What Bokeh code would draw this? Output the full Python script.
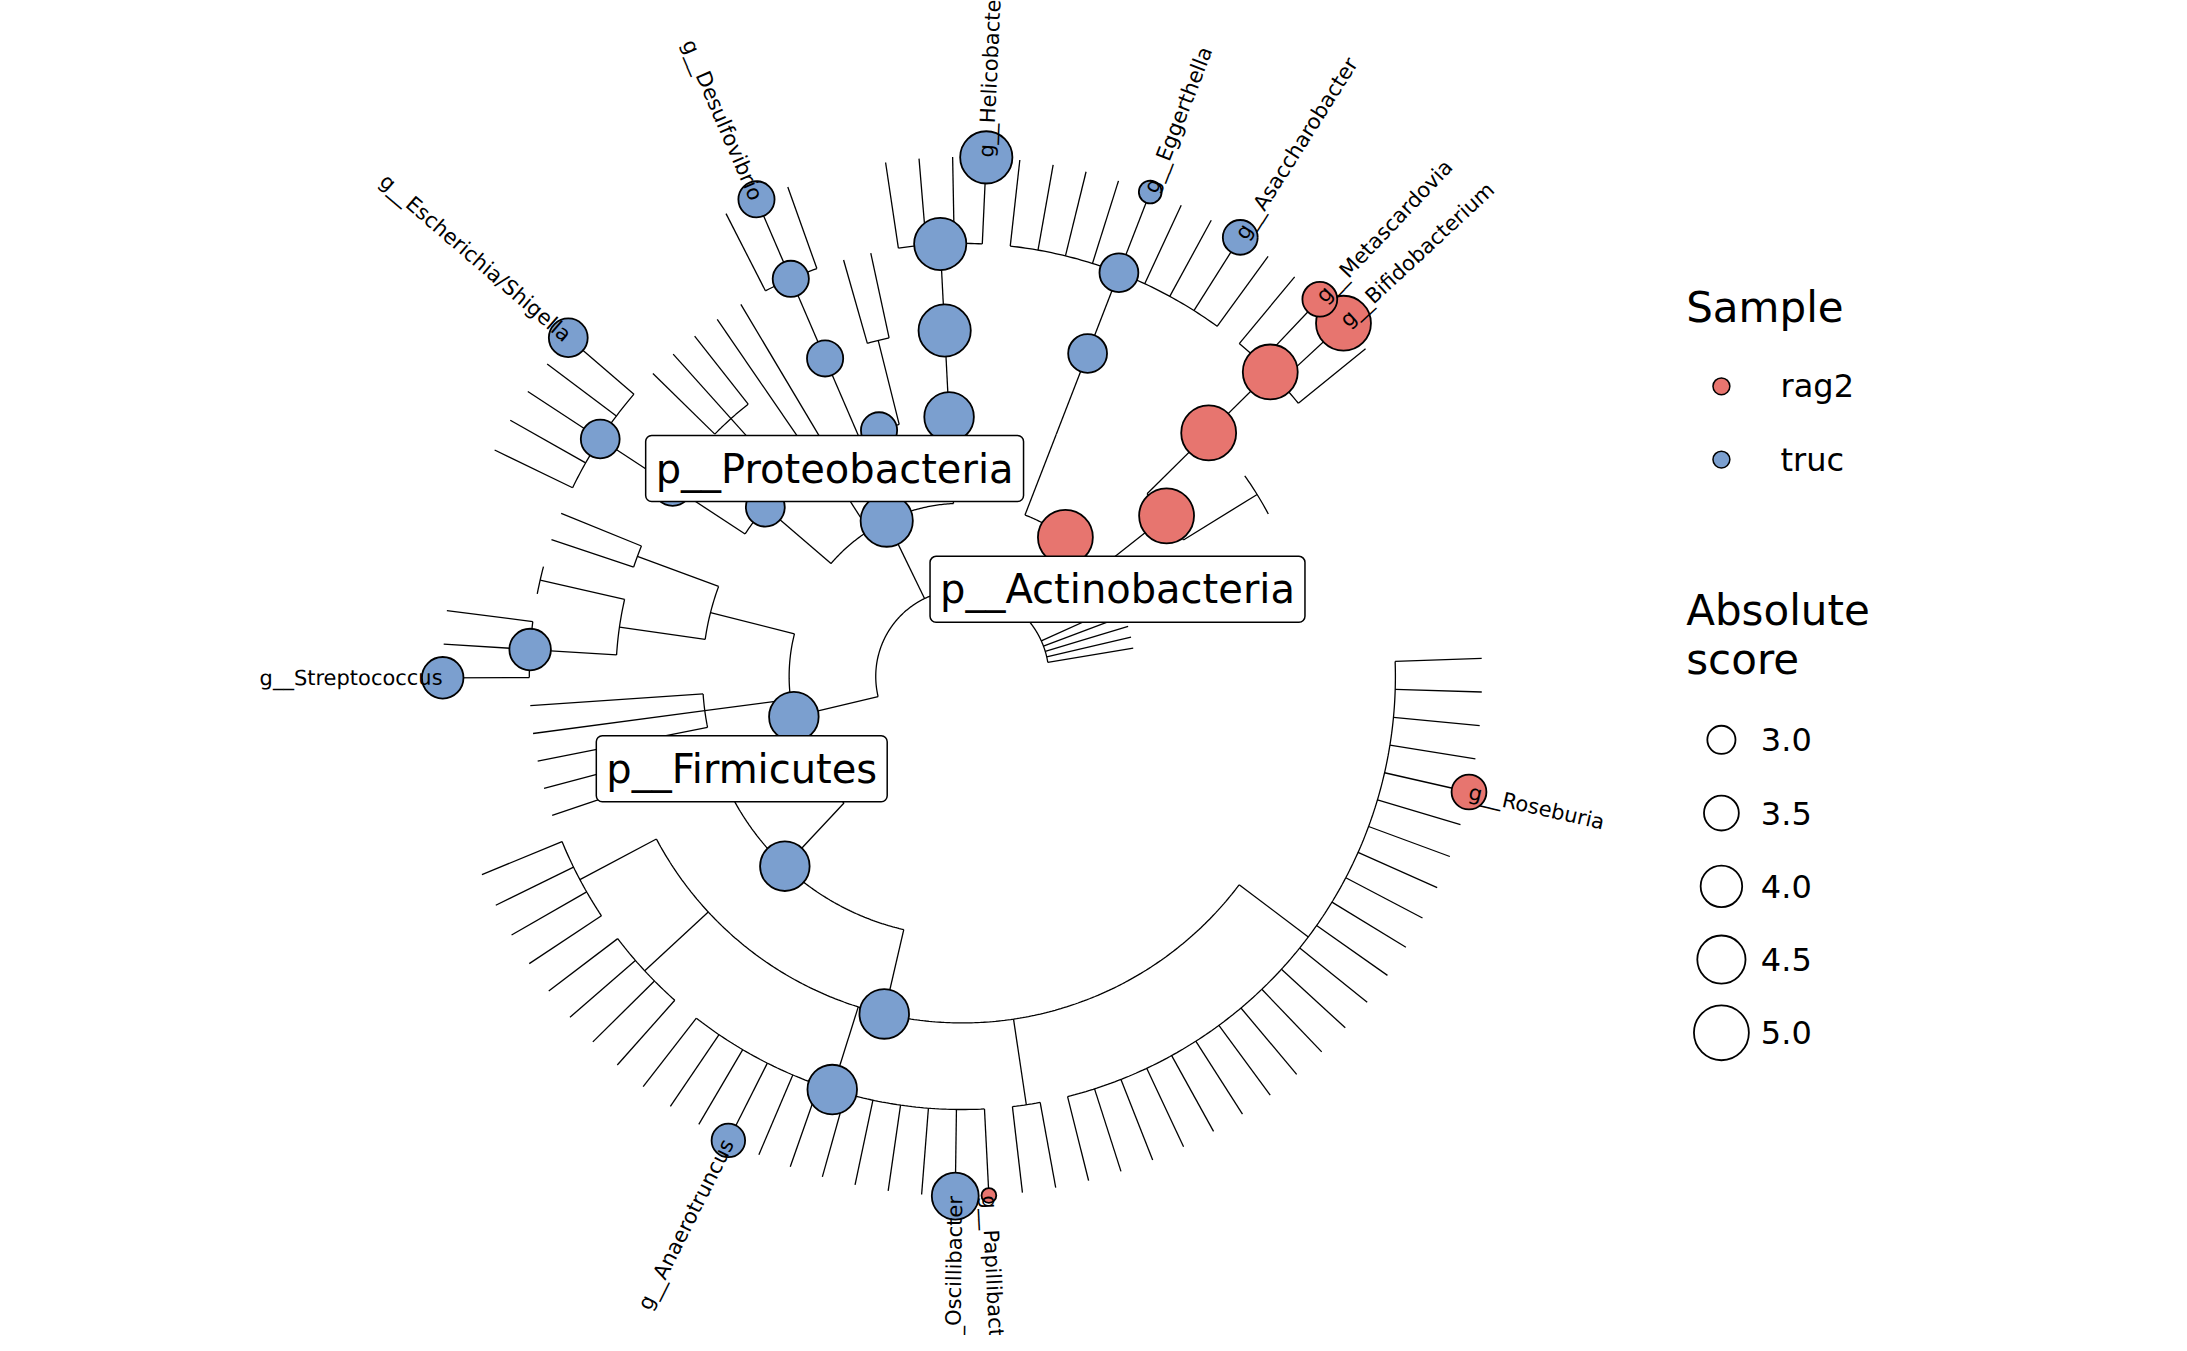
import math
from bokeh.plotting import figure
from bokeh.models import Range1d, Label, ColumnDataSource
from bokeh.core.properties import value
from bokeh.embed import file_html
from bokeh.resources import INLINE

# ---------------- data ----------------
lachno = ["", "", "", "", "g__Roseburia"] + [""] * 17
rumino = ["g__Papillibacter", "g__Oscillibacter", "", "", "", "", "", "", "g__Anaerotruncus", "", "", ""]
firmicutes = ["p__Firmicutes", [
    ["c__Clostridia", [
        ["o__Clostridiales", [
            ["f__Lachnospiraceae", lachno],
            ["f__Clostridiaceae", ["", ""]],
            ["f__Ruminococcaceae", rumino],
            ["f__Peptostreptococcaceae", ["", "", "", ""]],
            ["f__Eubacteriaceae", ["", "", "", ""]],
        ]],
        ["o__other", [["", 5], ["", 5]]],
    ]],
    ["c__Erysipelotrichia", [["", 5], ["", 5], ["", 5]]],
    ["c__Bacilli", [
        ["o__Lactobacillales", [
            ["f__Streptococcaceae", ["g__Streptococcus", "", ""]],
            ["f__Lactobacillaceae", [["", 5], ["", 5]]],
        ]],
        ["o__Bacillales", [["", 5], ["", 5]]],
    ]],
]]
proteobacteria = ["p__Proteobacteria", [
    ["c__Gammaproteobacteria", [
        ["o__Enterobacteriales", [
            ["f__Enterobacteriaceae", ["", "", "", "", "g__Escherichia/Shigella"]],
        ]],
        ["o__Pseudomonadales", [["", 5], ["", 5], ["", 5]]],
    ]],
    ["c__Betaproteobacteria", [["", 5], ["", 5]]],
    ["c__Deltaproteobacteria", [
        ["o__Desulfovibrionales", [
            ["f__Desulfovibrionaceae", ["", "g__Desulfovibrio", ""]],
        ]],
        ["o__other2", [["", 5], ["", 5]]],
    ]],
    ["c__Epsilonproteobacteria", [
        ["o__Campylobacterales", [
            ["f__Helicobacteraceae", ["", "", "", "g__Helicobacter"]],
        ]],
    ]],
]]
actinobacteria = ["p__Actinobacteria", [
    ["c__Coriobacteriia", [
        ["o__Coriobacteriales", [
            ["f__Coriobacteriaceae", ["", "", "", "", "g__Eggerthella", "", "", "g__Asaccharobacter", ""]],
        ]],
    ]],
    ["c__Actinobacteria", [
        ["o__Bifidobacteriales", [
            ["f__Bifidobacteriaceae", ["", "g__Metascardovia", "g__Bifidobacterium", ""]],
        ]],
        ["o__otherA", [["", 4], ["", 4], ["", 4]]],
    ]],
]]
tree = ["k__Bacteria", [firmicutes, proteobacteria, actinobacteria,
                        ["", 2], ["", 2], ["", 2], ["", 2], ["", 2]]]

# highlighted nodes: name -> (sample, absolute score)
marker_names = ["p__Actinobacteria", "c__Actinobacteria", "o__Bifidobacteriales", "f__Bifidobacteriaceae",
                "g__Bifidobacterium", "g__Metascardovia", "g__Roseburia", "g__Papillibacter",
                "o__Coriobacteriales", "f__Coriobacteriaceae", "g__Eggerthella", "g__Asaccharobacter",
                "p__Proteobacteria", "c__Epsilonproteobacteria", "o__Campylobacterales", "f__Helicobacteraceae",
                "g__Helicobacter", "c__Deltaproteobacteria", "o__Desulfovibrionales", "f__Desulfovibrionaceae",
                "g__Desulfovibrio", "c__Gammaproteobacteria", "o__Enterobacteriales", "f__Enterobacteriaceae",
                "g__Escherichia/Shigella", "p__Firmicutes", "c__Clostridia", "o__Clostridiales",
                "f__Ruminococcaceae", "g__Oscillibacter", "g__Anaerotruncus", "f__Streptococcaceae",
                "g__Streptococcus"]
marker_sample = ["rag2"] * 8 + ["truc"] * 25
marker_score = [5.0, 5.0, 5.0, 5.0, 5.0, 3.5, 3.5, 2.0,
                3.8, 3.8, 2.6, 3.5,
                4.8, 4.6, 4.8, 4.8, 4.8, 3.6, 3.6, 3.6, 3.6, 3.8, 3.8, 3.8, 3.8,
                4.6, 4.6, 4.6, 4.6, 4.4, 3.4, 4.0, 4.0]
sample_levels = ["rag2", "truc"]
sample_colors = ["#E7756F", "#7B9FCF"]
size_levels = [3.0, 3.5, 4.0, 4.5, 5.0]

# ---------------- layout ----------------
CX, CY, R = 683.0, 488.0, 61.5
def count_leaves(n):
    if isinstance(n, str) or isinstance(n[1], int):
        return 1
    return sum(count_leaves(c) for c in n[1])
N = count_leaves(tree)
DELTA = 360.0 / (N + 1)
THETA0 = 2.0
nodes = {}
xs, ys = [], []
counter = [0]

def pol(r, th):
    a = math.radians(th)
    return CX + r * math.cos(a), CY + r * math.sin(a)

def layout(n, depth):
    if isinstance(n, str) or isinstance(n[1], int):
        d = 6 if isinstance(n, str) else n[1]
        name = n if isinstance(n, str) else n[0]
        th = THETA0 - counter[0] * DELTA
        counter[0] += 1
        if name:
            nodes[name] = (d, th)
        return d, th
    kids = [layout(c, depth + 1) for c in n[1]]
    th = sum(k[1] for k in kids) / len(kids)
    nodes[n[0]] = (depth, th)
    r = depth * R
    a0, a1 = min(k[1] for k in kids), max(k[1] for k in kids)
    steps = max(2, int((a1 - a0) / 0.5))
    pts = [pol(r, a0 + (a1 - a0) * i / steps) for i in range(steps + 1)]
    xs.append([q[0] for q in pts]); ys.append([q[1] for q in pts])
    for d, kt in kids:
        p1, p2 = pol(r, kt), pol(d * R, kt)
        xs.append([p1[0], p2[0]]); ys.append([p1[1], p2[1]])
    return depth, th

layout(tree, 1)

# ---------------- figure ----------------
W, H = 2171, 1335
S = W / 1541.6
p = figure(width=W, height=H, output_backend="svg", toolbar_location=None,
           x_range=Range1d(0, 1541.6), y_range=Range1d(968 - H / S, 968), min_border=0)
p.axis.visible = False
p.grid.visible = False
p.outline_line_color = None

p.multi_line(xs, ys, line_color="black", line_width=1.3)

cx, cy, cr, cc = [], [], [], []
tx, ty, tt, ta, tal = [], [], [], [], []
for nm, smp, sc in zip(marker_names, marker_sample, marker_score):
    d, th = nodes[nm]
    x, y = pol(d * R, th)
    cx.append(x); cy.append(y); cr.append(10 + (sc - 3) * 4.75)
    cc.append(sample_colors[sample_levels.index(smp)])
    if nm.startswith("g__"):
        t = th % 360
        tx.append(x); ty.append(y); tt.append(nm)
        if 90 < t < 270:
            ta.append(math.radians(t - 180)); tal.append("right")
        else:
            ta.append(math.radians(t)); tal.append("left")
p.circle(cx, cy, radius=cr, fill_color=cc, line_color="black", line_width=1.8)
p.text(x="x", y="y", text="t", angle="a", text_align="al",
       source=ColumnDataSource(dict(x=tx, y=ty, t=tt, a=ta, al=tal)),
       text_baseline="middle", text_font=value("DejaVu Sans"), text_font_size="21px",
       text_color="black")

offsets = {"p__Proteobacteria": (-37, 37), "p__Actinobacteria": (37, -37), "p__Firmicutes": (-37, -37)}
for nm, (ox, oy) in offsets.items():
    d, th = nodes[nm]
    x, y = pol(d * R, th)
    p.add_layout(Label(x=x + ox, y=y + oy, text=nm, text_align="center", text_baseline="middle",
                       text_font="DejaVu Sans", text_font_size="40px", text_color="black",
                       background_fill_color="white",
                       border_line_color="black", border_line_width=1.5, padding=10, border_radius=6))

# legend
def lab(x, y, t, size):
    p.add_layout(Label(x=x, y=968 - y, text=t, text_baseline="middle", text_font="DejaVu Sans",
                       text_font_size=size, text_color="black"))
lab(1197, 218, "Sample", "42px")
for i, (lv, col) in enumerate(zip(sample_levels, sample_colors)):
    p.circle([1222], [968 - (274 + 52 * i)], radius=6, fill_color=col, line_color="black", line_width=1.5)
    lab(1264, 274 + 52 * i, lv, "32px")
lab(1197, 433, "Absolute", "42px")
lab(1197, 468, "score", "42px")
for i, s in enumerate(size_levels):
    p.circle([1222], [968 - (525 + 52 * i)], radius=10 + (s - 3) * 4.75, fill_color="white",
             line_color="black", line_width=1.8)
    lab(1250, 525 + 52 * i, f"{s:.1f}", "32px")

open("out.html", "w").write(file_html(p, INLINE))
